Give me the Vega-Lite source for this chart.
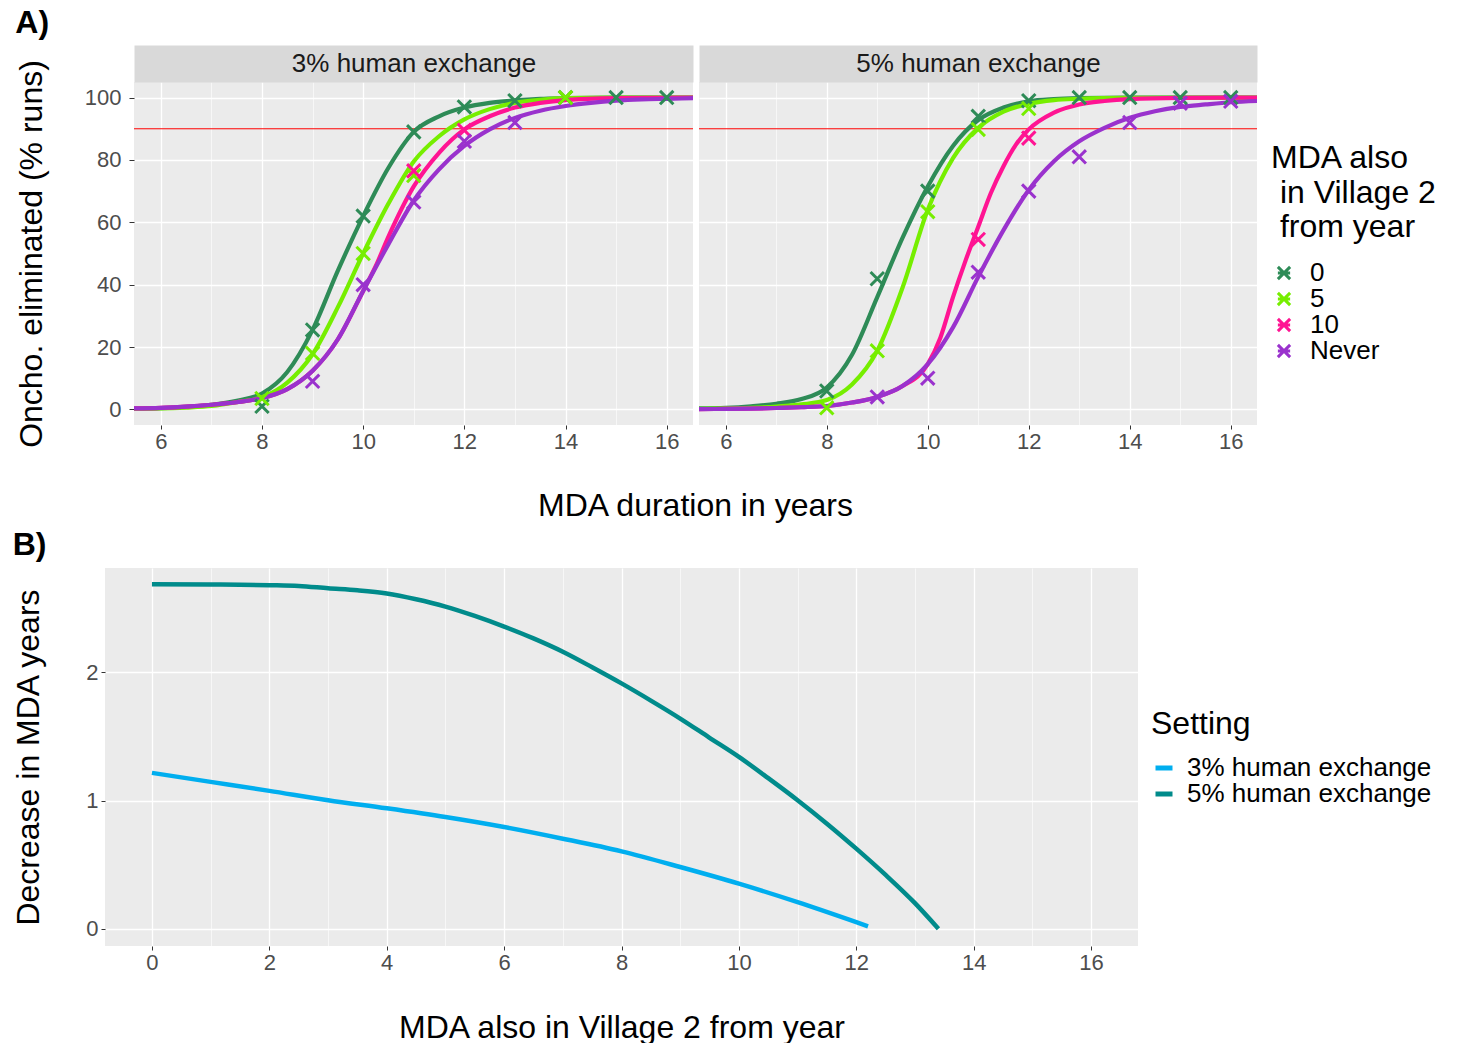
{
  "$schema": "https://vega.github.io/schema/vega-lite/v6.json",
  "padding": {"left": 12, "top": 6, "right": 0, "bottom": 0},
  "autosize": {"type": "pad"},
  "datasets": {
    "curvesA": [
      {"setting":"3%","group":"0","x":5.47,"y":0.2},{"setting":"3%","group":"0","x":6,"y":0.4},{"setting":"3%","group":"0","x":6.5,"y":0.8},{"setting":"3%","group":"0","x":7,"y":1.5},{"setting":"3%","group":"0","x":7.5,"y":2.8},{"setting":"3%","group":"0","x":8,"y":5.1},{"setting":"3%","group":"0","x":8.5,"y":12},{"setting":"3%","group":"0","x":9,"y":25.5},{"setting":"3%","group":"0","x":9.5,"y":44.5},{"setting":"3%","group":"0","x":10,"y":62},{"setting":"3%","group":"0","x":10.5,"y":77.5},{"setting":"3%","group":"0","x":11,"y":89},{"setting":"3%","group":"0","x":11.5,"y":94},{"setting":"3%","group":"0","x":12,"y":96.8},{"setting":"3%","group":"0","x":12.5,"y":98.3},{"setting":"3%","group":"0","x":13,"y":99.1},{"setting":"3%","group":"0","x":13.5,"y":99.6},{"setting":"3%","group":"0","x":14,"y":99.8},{"setting":"3%","group":"0","x":15,"y":100},{"setting":"3%","group":"0","x":16,"y":100},{"setting":"3%","group":"0","x":16.52,"y":100},
      {"setting":"3%","group":"5","x":5.47,"y":0.2},{"setting":"3%","group":"5","x":6,"y":0.3},{"setting":"3%","group":"5","x":6.5,"y":0.6},{"setting":"3%","group":"5","x":7,"y":1.1},{"setting":"3%","group":"5","x":7.5,"y":2.3},{"setting":"3%","group":"5","x":8,"y":3.9},{"setting":"3%","group":"5","x":8.5,"y":8.6},{"setting":"3%","group":"5","x":9,"y":17.7},{"setting":"3%","group":"5","x":9.5,"y":32.8},{"setting":"3%","group":"5","x":10,"y":50},{"setting":"3%","group":"5","x":10.5,"y":66},{"setting":"3%","group":"5","x":11,"y":79.5},{"setting":"3%","group":"5","x":11.5,"y":87.6},{"setting":"3%","group":"5","x":12,"y":93},{"setting":"3%","group":"5","x":12.5,"y":96.3},{"setting":"3%","group":"5","x":13,"y":98.3},{"setting":"3%","group":"5","x":13.5,"y":99.3},{"setting":"3%","group":"5","x":14,"y":99.8},{"setting":"3%","group":"5","x":15,"y":100},{"setting":"3%","group":"5","x":16.52,"y":100},
      {"setting":"3%","group":"10","x":5.47,"y":0.3},{"setting":"3%","group":"10","x":6,"y":0.5},{"setting":"3%","group":"10","x":6.5,"y":0.9},{"setting":"3%","group":"10","x":7,"y":1.5},{"setting":"3%","group":"10","x":7.5,"y":2.3},{"setting":"3%","group":"10","x":8,"y":3.6},{"setting":"3%","group":"10","x":8.5,"y":6.5},{"setting":"3%","group":"10","x":9,"y":12.4},{"setting":"3%","group":"10","x":9.5,"y":22.5},{"setting":"3%","group":"10","x":10,"y":38},{"setting":"3%","group":"10","x":10.25,"y":46},{"setting":"3%","group":"10","x":10.5,"y":55.4},{"setting":"3%","group":"10","x":11,"y":71.5},{"setting":"3%","group":"10","x":11.5,"y":82.3},{"setting":"3%","group":"10","x":12,"y":89.8},{"setting":"3%","group":"10","x":12.5,"y":94},{"setting":"3%","group":"10","x":13,"y":96.8},{"setting":"3%","group":"10","x":13.5,"y":98.3},{"setting":"3%","group":"10","x":14,"y":99.2},{"setting":"3%","group":"10","x":15,"y":99.8},{"setting":"3%","group":"10","x":16.52,"y":100},
      {"setting":"3%","group":"Never","x":5.47,"y":0.3},{"setting":"3%","group":"Never","x":6,"y":0.5},{"setting":"3%","group":"Never","x":6.5,"y":0.9},{"setting":"3%","group":"Never","x":7,"y":1.5},{"setting":"3%","group":"Never","x":7.5,"y":2.3},{"setting":"3%","group":"Never","x":8,"y":3.6},{"setting":"3%","group":"Never","x":8.5,"y":6.5},{"setting":"3%","group":"Never","x":9,"y":12.4},{"setting":"3%","group":"Never","x":9.5,"y":22.5},{"setting":"3%","group":"Never","x":10,"y":38},{"setting":"3%","group":"Never","x":10.5,"y":53},{"setting":"3%","group":"Never","x":11,"y":67},{"setting":"3%","group":"Never","x":11.5,"y":77},{"setting":"3%","group":"Never","x":12,"y":84.5},{"setting":"3%","group":"Never","x":12.5,"y":89.8},{"setting":"3%","group":"Never","x":13,"y":93.5},{"setting":"3%","group":"Never","x":13.5,"y":95.8},{"setting":"3%","group":"Never","x":14,"y":97.3},{"setting":"3%","group":"Never","x":14.5,"y":98.3},{"setting":"3%","group":"Never","x":15,"y":99},{"setting":"3%","group":"Never","x":15.5,"y":99.4},{"setting":"3%","group":"Never","x":16,"y":99.6},{"setting":"3%","group":"Never","x":16.52,"y":99.8},
      {"setting":"5%","group":"0","x":5.47,"y":0.3},{"setting":"5%","group":"0","x":6,"y":0.5},{"setting":"5%","group":"0","x":6.5,"y":1},{"setting":"5%","group":"0","x":7,"y":1.8},{"setting":"5%","group":"0","x":7.5,"y":3.3},{"setting":"5%","group":"0","x":8,"y":7},{"setting":"5%","group":"0","x":8.5,"y":17.5},{"setting":"5%","group":"0","x":9,"y":36},{"setting":"5%","group":"0","x":9.5,"y":55},{"setting":"5%","group":"0","x":10,"y":71.5},{"setting":"5%","group":"0","x":10.5,"y":84.5},{"setting":"5%","group":"0","x":11,"y":92.8},{"setting":"5%","group":"0","x":11.5,"y":96.8},{"setting":"5%","group":"0","x":12,"y":98.8},{"setting":"5%","group":"0","x":12.5,"y":99.5},{"setting":"5%","group":"0","x":13,"y":99.8},{"setting":"5%","group":"0","x":14,"y":100},{"setting":"5%","group":"0","x":16.52,"y":100},
      {"setting":"5%","group":"5","x":5.47,"y":0.2},{"setting":"5%","group":"5","x":6,"y":0.3},{"setting":"5%","group":"5","x":6.5,"y":0.5},{"setting":"5%","group":"5","x":7,"y":0.9},{"setting":"5%","group":"5","x":7.5,"y":1.6},{"setting":"5%","group":"5","x":8,"y":3},{"setting":"5%","group":"5","x":8.5,"y":8},{"setting":"5%","group":"5","x":9,"y":18.8},{"setting":"5%","group":"5","x":9.5,"y":39},{"setting":"5%","group":"5","x":10,"y":64},{"setting":"5%","group":"5","x":10.5,"y":80.6},{"setting":"5%","group":"5","x":11,"y":90.3},{"setting":"5%","group":"5","x":11.5,"y":95.5},{"setting":"5%","group":"5","x":12,"y":98},{"setting":"5%","group":"5","x":12.5,"y":99.2},{"setting":"5%","group":"5","x":13,"y":99.6},{"setting":"5%","group":"5","x":14,"y":99.9},{"setting":"5%","group":"5","x":16.52,"y":100},
      {"setting":"5%","group":"10","x":5.47,"y":0.1},{"setting":"5%","group":"10","x":6,"y":0.15},{"setting":"5%","group":"10","x":6.5,"y":0.25},{"setting":"5%","group":"10","x":7,"y":0.45},{"setting":"5%","group":"10","x":7.5,"y":0.7},{"setting":"5%","group":"10","x":8,"y":1.1},{"setting":"5%","group":"10","x":8.5,"y":2.2},{"setting":"5%","group":"10","x":9,"y":4},{"setting":"5%","group":"10","x":9.5,"y":7.5},{"setting":"5%","group":"10","x":10,"y":14.5},{"setting":"5%","group":"10","x":10.25,"y":23},{"setting":"5%","group":"10","x":10.5,"y":36},{"setting":"5%","group":"10","x":10.75,"y":47.8},{"setting":"5%","group":"10","x":11,"y":58.6},{"setting":"5%","group":"10","x":11.25,"y":69.4},{"setting":"5%","group":"10","x":11.5,"y":78},{"setting":"5%","group":"10","x":11.75,"y":85},{"setting":"5%","group":"10","x":12,"y":89.8},{"setting":"5%","group":"10","x":12.5,"y":95.2},{"setting":"5%","group":"10","x":13,"y":97.8},{"setting":"5%","group":"10","x":13.5,"y":98.9},{"setting":"5%","group":"10","x":14,"y":99.5},{"setting":"5%","group":"10","x":15,"y":99.9},{"setting":"5%","group":"10","x":16.52,"y":100},
      {"setting":"5%","group":"Never","x":5.47,"y":0.1},{"setting":"5%","group":"Never","x":6,"y":0.15},{"setting":"5%","group":"Never","x":6.5,"y":0.25},{"setting":"5%","group":"Never","x":7,"y":0.45},{"setting":"5%","group":"Never","x":7.5,"y":0.7},{"setting":"5%","group":"Never","x":8,"y":1.1},{"setting":"5%","group":"Never","x":8.5,"y":2.2},{"setting":"5%","group":"Never","x":9,"y":4},{"setting":"5%","group":"Never","x":9.5,"y":7.5},{"setting":"5%","group":"Never","x":10,"y":14.5},{"setting":"5%","group":"Never","x":10.5,"y":26.3},{"setting":"5%","group":"Never","x":11,"y":42.5},{"setting":"5%","group":"Never","x":11.5,"y":57.5},{"setting":"5%","group":"Never","x":12,"y":70.4},{"setting":"5%","group":"Never","x":12.5,"y":79.6},{"setting":"5%","group":"Never","x":13,"y":86},{"setting":"5%","group":"Never","x":13.5,"y":90.3},{"setting":"5%","group":"Never","x":14,"y":93.5},{"setting":"5%","group":"Never","x":14.5,"y":95.6},{"setting":"5%","group":"Never","x":15,"y":97},{"setting":"5%","group":"Never","x":15.5,"y":97.8},{"setting":"5%","group":"Never","x":16,"y":98.5},{"setting":"5%","group":"Never","x":16.52,"y":98.9}
    ],
    "pointsA": [
      {"setting":"3%","group":"0","x":8,"y":1},{"setting":"3%","group":"0","x":9,"y":25.5},{"setting":"3%","group":"0","x":10,"y":62},{"setting":"3%","group":"0","x":11,"y":89},{"setting":"3%","group":"0","x":12,"y":97},{"setting":"3%","group":"0","x":13,"y":99},{"setting":"3%","group":"0","x":14,"y":100},{"setting":"3%","group":"0","x":15,"y":100},{"setting":"3%","group":"0","x":16,"y":100},
      {"setting":"3%","group":"5","x":8,"y":3.5},{"setting":"3%","group":"5","x":9,"y":18},{"setting":"3%","group":"5","x":10,"y":50},{"setting":"3%","group":"5","x":11,"y":75},{"setting":"3%","group":"5","x":14,"y":100},
      {"setting":"3%","group":"10","x":11,"y":76.5},{"setting":"3%","group":"10","x":12,"y":89.5},
      {"setting":"3%","group":"Never","x":9,"y":9},{"setting":"3%","group":"Never","x":10,"y":40},{"setting":"3%","group":"Never","x":11,"y":66.5},{"setting":"3%","group":"Never","x":12,"y":86},{"setting":"3%","group":"Never","x":13,"y":92},
      {"setting":"5%","group":"0","x":8,"y":5.9},{"setting":"5%","group":"0","x":9,"y":41.9},{"setting":"5%","group":"0","x":10,"y":70},{"setting":"5%","group":"0","x":11,"y":94},{"setting":"5%","group":"0","x":12,"y":99},{"setting":"5%","group":"0","x":13,"y":100},{"setting":"5%","group":"0","x":14,"y":100},{"setting":"5%","group":"0","x":15,"y":100},{"setting":"5%","group":"0","x":16,"y":100},
      {"setting":"5%","group":"5","x":8,"y":0.5},{"setting":"5%","group":"5","x":9,"y":18.8},{"setting":"5%","group":"5","x":10,"y":63.4},{"setting":"5%","group":"5","x":11,"y":89.8},{"setting":"5%","group":"5","x":12,"y":96.5},
      {"setting":"5%","group":"10","x":11,"y":54.5},{"setting":"5%","group":"10","x":12,"y":87},
      {"setting":"5%","group":"Never","x":9,"y":4},{"setting":"5%","group":"Never","x":10,"y":10},{"setting":"5%","group":"Never","x":11,"y":44},{"setting":"5%","group":"Never","x":12,"y":70},{"setting":"5%","group":"Never","x":13,"y":81},{"setting":"5%","group":"Never","x":14,"y":92},{"setting":"5%","group":"Never","x":15,"y":98.2},{"setting":"5%","group":"Never","x":16,"y":98.8}
    ],
    "curvesB": [
      {"setting":"3% human exchange","x":0,"y":1.216},{"setting":"3% human exchange","x":1,"y":1.146},{"setting":"3% human exchange","x":2,"y":1.076},{"setting":"3% human exchange","x":3,"y":1.003},{"setting":"3% human exchange","x":4,"y":0.94},{"setting":"3% human exchange","x":5,"y":0.872},{"setting":"3% human exchange","x":6,"y":0.794},{"setting":"3% human exchange","x":7,"y":0.703},{"setting":"3% human exchange","x":8,"y":0.604},{"setting":"3% human exchange","x":9,"y":0.482},{"setting":"3% human exchange","x":10,"y":0.352},{"setting":"3% human exchange","x":11,"y":0.208},{"setting":"3% human exchange","x":12,"y":0.052},{"setting":"3% human exchange","x":12.2,"y":0.02},
      {"setting":"5% human exchange","x":0,"y":2.687},{"setting":"5% human exchange","x":1,"y":2.685},{"setting":"5% human exchange","x":2,"y":2.68},{"setting":"5% human exchange","x":2.5,"y":2.674},{"setting":"5% human exchange","x":3,"y":2.656},{"setting":"5% human exchange","x":3.5,"y":2.64},{"setting":"5% human exchange","x":4,"y":2.615},{"setting":"5% human exchange","x":4.5,"y":2.57},{"setting":"5% human exchange","x":5,"y":2.513},{"setting":"5% human exchange","x":5.5,"y":2.44},{"setting":"5% human exchange","x":6,"y":2.357},{"setting":"5% human exchange","x":6.5,"y":2.265},{"setting":"5% human exchange","x":7,"y":2.161},{"setting":"5% human exchange","x":7.5,"y":2.04},{"setting":"5% human exchange","x":8,"y":1.914},{"setting":"5% human exchange","x":8.5,"y":1.78},{"setting":"5% human exchange","x":9,"y":1.64},{"setting":"5% human exchange","x":9.5,"y":1.49},{"setting":"5% human exchange","x":10,"y":1.341},{"setting":"5% human exchange","x":10.5,"y":1.175},{"setting":"5% human exchange","x":11,"y":1.003},{"setting":"5% human exchange","x":11.5,"y":0.82},{"setting":"5% human exchange","x":12,"y":0.625},{"setting":"5% human exchange","x":12.5,"y":0.42},{"setting":"5% human exchange","x":13,"y":0.2},{"setting":"5% human exchange","x":13.4,"y":0}
    ],
    "spacer": [{"label": ""}]
  },
  "concat": [
    {
      "title": {"text": "A)", "anchor": "start", "offset": 11},
      "spacing": 6,
      "bounds": "flush",
      "resolve": {"scale": {"color": "independent"}, "legend": {"color": "independent"}},
      "hconcat": [
        {
          "width": 23, "height": 10,
          "view": {"fill": null, "stroke": null},
          "data": {"name": "spacer"},
          "mark": {"type": "text"},
          "encoding": {"text": {"field": "label", "type": "nominal"}}
        },
        {
          "width": 559, "height": 343,
          "resolve": {"axis": {"x": "independent"}},
          "layer": [
            {
              "data": {"values": [{"y": 90}]},
              "mark": {"type": "rule", "color": "#FF0000", "strokeWidth": 1},
              "encoding": {
                "y": {"field": "y", "type": "quantitative", "title": "Oncho. eliminated (% runs)", "scale": {"domain": [-5, 105], "nice": false, "zero": false},
                  "axis": {"values": [0,10,20,30,40,50,60,70,80,90,100], "labelExpr": "datum.value % 20 == 0 ? datum.label : ''", "gridWidth": {"condition": {"test": "datum.value % 20 == 10", "value": 0.6}, "value": 1.3}, "tickOpacity": {"condition": {"test": "datum.value % 20 == 10", "value": 0}, "value": 1}, "tickSize": 5, "labelPadding": 8, "titlePadding": 36}}
              }
            },
            {
              "data": {"name": "curvesA"},
              "transform": [{"filter": "datum.setting == '3%'"}],
              "mark": {"type": "line", "strokeWidth": 4.2, "interpolate": "monotone", "clip": true},
              "encoding": {
                "x": {"field": "x", "type": "quantitative", "title": "MDA duration in years", "scale": {"domain": [5.47, 16.52], "nice": false, "zero": false},
                  "axis": {"values": [6,7,8,9,10,11,12,13,14,15,16], "labelExpr": "datum.value % 2 == 0 ? datum.label : ''", "gridWidth": {"condition": {"test": "datum.value % 2 == 1", "value": 0.6}, "value": 1.3}, "tickOpacity": {"condition": {"test": "datum.value % 2 == 1", "value": 0}, "value": 1}, "titlePadding": 38, "titleX": 561}},
                "y": {"field": "y", "type": "quantitative", "scale": {"domain": [-5, 105], "nice": false, "zero": false}},
                "color": {"field": "group", "type": "nominal", "scale": {"domain": ["0","5","10","Never"], "range": ["#2E8B57","#76EE00","#FF1493","#9A32CD"]}, "legend": null}
              }
            },
            {
              "data": {"name": "pointsA"},
              "transform": [{"filter": "datum.setting == '3%'"}],
              "mark": {"type": "point", "shape": "M-1,-1L1,1M-1,1L1,-1", "filled": false, "strokeWidth": 3, "size": 180, "opacity": 1},
              "encoding": {
                "x": {"field": "x", "type": "quantitative", "title": "3% human exchange", "scale": {"domain": [5.47, 16.52], "nice": false, "zero": false},
                  "axis": {"orient": "top", "domain": true, "domainColor": "#D9D9D9", "domainWidth": 37, "offset": 18.5, "ticks": false, "labels": false, "grid": false, "titleFontSize": 26, "titleColor": "#1A1A1A", "titleBaseline": "middle", "titleY": 0}},
                "y": {"field": "y", "type": "quantitative", "scale": {"domain": [-5, 105], "nice": false, "zero": false}},
                "color": {"field": "group", "type": "nominal", "scale": {"domain": ["0","5","10","Never"], "range": ["#2E8B57","#76EE00","#FF1493","#9A32CD"]}, "legend": null}
              }
            }
          ]
        },
        {
          "width": 558, "height": 343,
          "resolve": {"axis": {"x": "independent"}},
          "layer": [
            {
              "data": {"values": [{"y": 90}]},
              "mark": {"type": "rule", "color": "#FF0000", "strokeWidth": 1},
              "encoding": {
                "y": {"field": "y", "type": "quantitative", "title": null, "scale": {"domain": [-5, 105], "nice": false, "zero": false},
                  "axis": {"values": [0,10,20,30,40,50,60,70,80,90,100], "labels": false, "ticks": false, "title": null, "gridWidth": {"condition": {"test": "datum.value % 20 == 10", "value": 0.6}, "value": 1.3}}}
              }
            },
            {
              "data": {"name": "curvesA"},
              "transform": [{"filter": "datum.setting == '5%'"}],
              "mark": {"type": "line", "strokeWidth": 4.2, "interpolate": "monotone", "clip": true},
              "encoding": {
                "x": {"field": "x", "type": "quantitative", "title": null, "scale": {"domain": [5.47, 16.52], "nice": false, "zero": false},
                  "axis": {"values": [6,7,8,9,10,11,12,13,14,15,16], "labelExpr": "datum.value % 2 == 0 ? datum.label : ''", "gridWidth": {"condition": {"test": "datum.value % 2 == 1", "value": 0.6}, "value": 1.3}, "tickOpacity": {"condition": {"test": "datum.value % 2 == 1", "value": 0}, "value": 1}, "title": null}},
                "y": {"field": "y", "type": "quantitative", "scale": {"domain": [-5, 105], "nice": false, "zero": false}},
                "color": {"field": "group", "type": "nominal", "scale": {"domain": ["0","5","10","Never"], "range": ["#2E8B57","#76EE00","#FF1493","#9A32CD"]},
                  "legend": {"title": ["MDA also", "\u200b in Village 2", "\u200b from year"], "orient": "none", "legendX": 572, "legendY": 61, "titleLineHeight": 34.5, "titlePadding": 16, "titleLimit": 400, "labelLimit": 400, "symbolType": "M-1,-1L1,1M-1,1L1,-1M-1,0L1,0", "symbolSize": 150, "symbolStrokeWidth": 3, "symbolOffset": 0, "labelOffset": 13, "rowPadding": 0}}
              }
            },
            {
              "data": {"name": "pointsA"},
              "transform": [{"filter": "datum.setting == '5%'"}],
              "mark": {"type": "point", "shape": "M-1,-1L1,1M-1,1L1,-1", "filled": false, "strokeWidth": 3, "size": 180, "opacity": 1},
              "encoding": {
                "x": {"field": "x", "type": "quantitative", "title": "5% human exchange", "scale": {"domain": [5.47, 16.52], "nice": false, "zero": false},
                  "axis": {"orient": "top", "domain": true, "domainColor": "#D9D9D9", "domainWidth": 37, "offset": 18.5, "ticks": false, "labels": false, "grid": false, "titleFontSize": 26, "titleColor": "#1A1A1A", "titleBaseline": "middle", "titleY": 0}},
                "y": {"field": "y", "type": "quantitative", "scale": {"domain": [-5, 105], "nice": false, "zero": false}},
                "color": {"field": "group", "type": "nominal", "scale": {"domain": ["0","5","10","Never"], "range": ["#2E8B57","#76EE00","#FF1493","#9A32CD"]}}
              }
            }
          ]
        }
      ]
    },
    {
      "title": {"text": "B)", "anchor": "start", "offset": 6},
      "width": 1033, "height": 378,
      "data": {"name": "curvesB"},
      "mark": {"type": "line", "strokeWidth": 4.5, "interpolate": "monotone"},
      "encoding": {
        "x": {"field": "x", "type": "quantitative", "title": "MDA also in Village 2 from year", "scale": {"domain": [-0.8, 16.8], "nice": false, "zero": false},
          "axis": {"values": [0,1,2,3,4,5,6,7,8,9,10,11,12,13,14,15,16], "labelExpr": "datum.value % 2 == 0 ? datum.label : ''", "gridWidth": {"condition": {"test": "datum.value % 2 == 1", "value": 0.6}, "value": 1.3}, "tickOpacity": {"condition": {"test": "datum.value % 2 == 1", "value": 0}, "value": 1}, "titlePadding": 39}},
        "y": {"field": "y", "type": "quantitative", "title": "Decrease in MDA years", "scale": {"domain": [-0.134, 2.814], "nice": false, "zero": false},
          "axis": {"values": [0,0.5,1,1.5,2,2.5], "format": "d", "labelExpr": "datum.value % 1 == 0 ? datum.label : ''", "gridWidth": {"condition": {"test": "datum.value % 1 != 0", "value": 0.6}, "value": 1.3}, "tickOpacity": {"condition": {"test": "datum.value % 1 != 0", "value": 0}, "value": 1}, "tickSize": 4, "labelPadding": 3, "titlePadding": 40}},
        "color": {"field": "setting", "type": "nominal", "scale": {"domain": ["3% human exchange", "5% human exchange"], "range": ["#00AEEF", "#008B8B"]},
          "legend": {"title": "Setting", "orient": "none", "legendX": 1046, "legendY": 141, "labelLimit": 400, "symbolType": "stroke", "symbolSize": 289, "symbolStrokeWidth": 5, "labelOffset": 10, "rowPadding": 0, "titlePadding": 14}}
      }
    }
  ],
  "columns": 1,
  "spacing": 8,
  "resolve": {"scale": {"color": "independent"}, "legend": {"color": "independent"}},
  "config": {
    "font": "Liberation Sans",
    "view": {"fill": "#EBEBEB", "stroke": null},
    "axis": {"domain": false, "tickColor": "#333333", "tickSize": 4, "labelColor": "#4D4D4D", "labelFontSize": 22, "labelPadding": 2, "titleFontSize": 32, "titleFontWeight": "normal", "titleColor": "#000000", "gridColor": "#FFFFFF", "labelOverlap": false, "labelFlush": false},
    "legend": {"titleFontSize": 32, "titleFontWeight": "normal", "titleColor": "#000000", "labelFontSize": 26, "labelColor": "#000000", "padding": 0},
    "title": {"fontSize": 32, "fontWeight": "bold", "color": "#000000"}
  }
}
